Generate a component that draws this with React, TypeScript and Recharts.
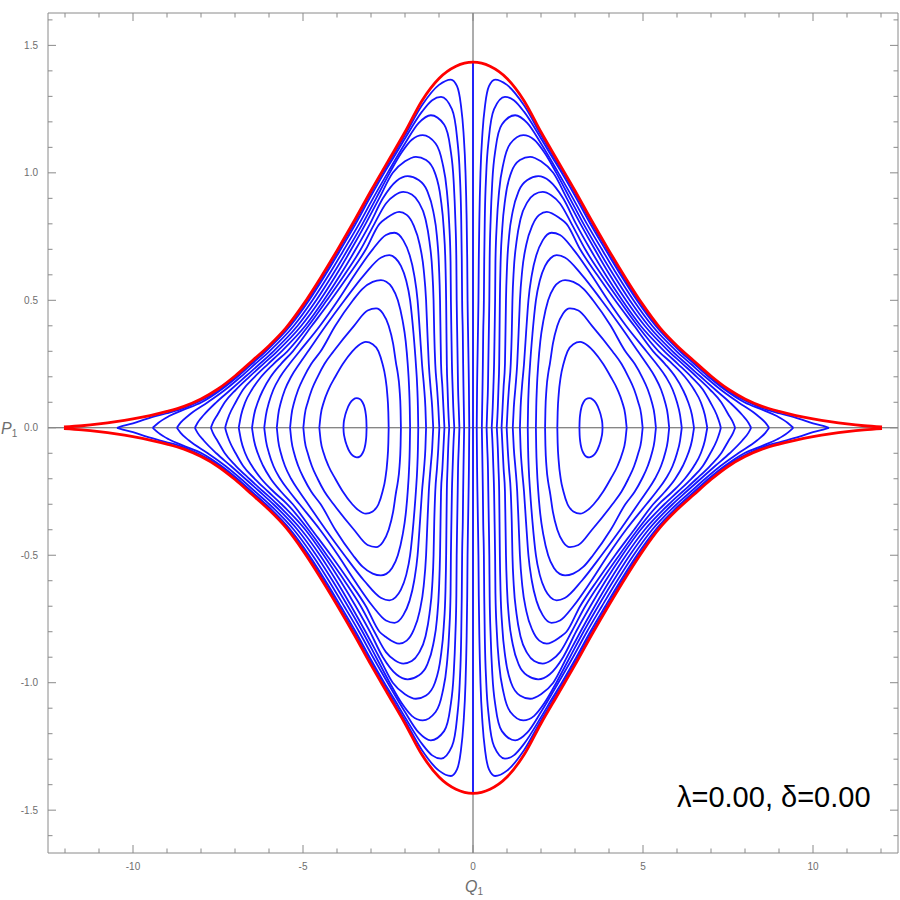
import { Line, LineChart, ReferenceLine, XAxis, YAxis } from "recharts";

type Pt = [number, number];

// upper half of the red separatrix, Q >= 0 (the picture is mirror-symmetric)
const sepQ = [0, 0.5, 1, 1.5, 2, 2.5, 3, 3.5, 4, 4.5, 5, 5.5, 6, 6.5, 7, 7.5, 8, 8.5, 9, 9.5, 10, 10.5, 11, 11.5, 12.03];
const sepP = [1.434, 1.418, 1.37, 1.283, 1.16, 1.045, 0.93, 0.81, 0.695, 0.585, 0.482, 0.392, 0.322, 0.262, 0.203, 0.152, 0.113, 0.084, 0.064, 0.048, 0.035, 0.024, 0.015, 0.008, 0.003];

// closed orbits around the right centre, upper half, from inner to outer crossing of P=0
const orbit1: Pt[] = [[3.13, 0], [3.137, 0.03], [3.155, 0.055], [3.19, 0.08], [3.25, 0.1], [3.33, 0.113], [3.42, 0.116], [3.52, 0.111], [3.62, 0.096], [3.71, 0.07], [3.775, 0.04], [3.803, 0.018], [3.81, 0]];
const orbit2: Pt[] = [[2.48, 0], [2.49, 0.06], [2.52, 0.13], [2.58, 0.2], [2.66, 0.25], [2.78, 0.3], [2.95, 0.328], [3.15, 0.337], [3.38, 0.322], [3.55, 0.3], [3.83, 0.25], [4.05, 0.2], [4.25, 0.15], [4.39, 0.1], [4.48, 0.05], [4.52, 0]];
const orbit3: Pt[] = [[2.12, 0], [2.13, 0.07], [2.16, 0.15], [2.22, 0.22], [2.26, 0.25], [2.35, 0.33], [2.48, 0.4], [2.65, 0.448], [2.85, 0.468], [3.1, 0.46], [3.5, 0.4], [4.1, 0.3], [4.37, 0.25], [4.57, 0.2], [4.74, 0.15], [4.86, 0.1], [4.95, 0.05], [4.99, 0]];
const orbit4: Pt[] = [[1.85, 0], [1.86, 0.08], [1.88, 0.16], [1.92, 0.25], [1.98, 0.34], [2.07, 0.42], [2.21, 0.5], [2.38, 0.55], [2.55, 0.573], [2.71, 0.579], [2.95, 0.572], [3.25, 0.545], [3.53, 0.5], [4.05, 0.4], [4.48, 0.3], [4.76, 0.25], [4.97, 0.2], [5.14, 0.15], [5.26, 0.1], [5.34, 0.05], [5.38, 0]];
const orbit5: Pt[] = [[1.61, 0], [1.62, 0.08], [1.64, 0.16], [1.68, 0.25], [1.75, 0.37], [1.85, 0.5], [1.97, 0.58], [2.12, 0.635], [2.28, 0.665], [2.46, 0.677], [2.7, 0.668], [3.2, 0.6], [3.78, 0.5], [4.33, 0.4], [4.85, 0.3], [5.11, 0.25], [5.35, 0.2], [5.53, 0.15], [5.65, 0.1], [5.73, 0.05], [5.77, 0]];
const orbit6: Pt[] = [[1.38, 0], [1.4, 0.08], [1.44, 0.16], [1.5, 0.25], [1.56, 0.37], [1.63, 0.5], [1.73, 0.6], [1.87, 0.68], [2.05, 0.735], [2.31, 0.765], [2.56, 0.756], [2.95, 0.7], [3.48, 0.6], [3.97, 0.5], [4.5, 0.4], [5.1, 0.3], [5.4, 0.25], [5.67, 0.2], [5.87, 0.15], [6.0, 0.1], [6.09, 0.05], [6.14, 0]];
const orbit7: Pt[] = [[1.17, 0], [1.2, 0.08], [1.25, 0.16], [1.3, 0.25], [1.34, 0.37], [1.38, 0.5], [1.45, 0.62], [1.57, 0.72], [1.75, 0.795], [1.95, 0.835], [2.17, 0.847], [2.56, 0.821], [2.75, 0.8], [3.15, 0.7], [3.65, 0.6], [4.18, 0.5], [4.74, 0.4], [5.3, 0.3], [5.65, 0.25], [5.95, 0.2], [6.17, 0.15], [6.33, 0.1], [6.44, 0.05], [6.5, 0]];
const orbit8: Pt[] = [[0.99, 0], [1.02, 0.08], [1.06, 0.16], [1.11, 0.25], [1.14, 0.37], [1.16, 0.5], [1.2, 0.62], [1.28, 0.73], [1.4, 0.82], [1.6, 0.885], [1.8, 0.915], [2.05, 0.925], [2.3, 0.912], [2.56, 0.88], [2.9, 0.8], [3.3, 0.7], [3.78, 0.6], [4.3, 0.5], [4.84, 0.4], [5.46, 0.3], [5.87, 0.25], [6.23, 0.2], [6.5, 0.15], [6.7, 0.1], [6.82, 0.05], [6.89, 0]];
const orbit9: Pt[] = [[0.84, 0], [0.87, 0.08], [0.9, 0.16], [0.94, 0.25], [0.955, 0.37], [0.97, 0.5], [1.0, 0.63], [1.06, 0.75], [1.17, 0.85], [1.35, 0.93], [1.6, 0.972], [1.92, 0.987], [2.25, 0.968], [2.65, 0.9], [3.03, 0.8], [3.45, 0.7], [3.9, 0.6], [4.39, 0.5], [4.93, 0.4], [5.63, 0.3], [6.03, 0.25], [6.42, 0.2], [6.76, 0.15], [6.98, 0.1], [7.17, 0.05], [7.25, 0.02], [7.29, 0]];
const orbit10: Pt[] = [[0.7, 0], [0.73, 0.08], [0.75, 0.16], [0.77, 0.25], [0.78, 0.37], [0.79, 0.5], [0.81, 0.64], [0.86, 0.78], [0.95, 0.9], [1.12, 1.0], [1.38, 1.05], [1.68, 1.063], [2.0, 1.045], [2.36, 1.0], [2.76, 0.9], [3.16, 0.8], [3.58, 0.7], [4.02, 0.6], [4.5, 0.5], [5.05, 0.4], [5.76, 0.3], [6.17, 0.25], [6.58, 0.2], [6.97, 0.15], [7.3, 0.1], [7.52, 0.05], [7.65, 0.02], [7.71, 0]];
const orbit11: Pt[] = [[0.55, 0], [0.58, 0.08], [0.6, 0.16], [0.62, 0.25], [0.635, 0.37], [0.65, 0.5], [0.66, 0.65], [0.7, 0.8], [0.77, 0.93], [0.9, 1.04], [1.1, 1.115], [1.48, 1.148], [1.8, 1.13], [2.1, 1.08], [2.45, 1.0], [2.85, 0.9], [3.25, 0.8], [3.68, 0.7], [4.13, 0.6], [4.61, 0.5], [5.16, 0.4], [5.87, 0.3], [6.28, 0.25], [6.7, 0.2], [7.12, 0.15], [7.55, 0.1], [7.92, 0.05], [8.1, 0.02], [8.18, 0]];
const orbit12: Pt[] = [[0.4, 0], [0.42, 0.08], [0.44, 0.16], [0.45, 0.25], [0.465, 0.37], [0.48, 0.5], [0.49, 0.66], [0.52, 0.82], [0.57, 0.97], [0.67, 1.1], [0.85, 1.19], [1.24, 1.226], [1.6, 1.195], [2.0, 1.115], [2.51, 1.0], [2.94, 0.9], [3.35, 0.8], [3.79, 0.7], [4.24, 0.6], [4.72, 0.5], [5.27, 0.4], [5.99, 0.3], [6.41, 0.25], [6.83, 0.2], [7.28, 0.15], [7.8, 0.1], [8.35, 0.05], [8.6, 0.02], [8.71, 0]];
const orbit13: Pt[] = [[0.26, 0], [0.27, 0.08], [0.28, 0.16], [0.29, 0.25], [0.3, 0.37], [0.32, 0.5], [0.33, 0.66], [0.35, 0.84], [0.39, 1.0], [0.47, 1.14], [0.62, 1.25], [0.94, 1.298], [1.2, 1.285], [1.5, 1.24], [2.0, 1.135], [2.3, 1.068], [2.61, 1.0], [3.04, 0.9], [3.45, 0.8], [3.89, 0.7], [4.34, 0.6], [4.82, 0.5], [5.37, 0.4], [6.09, 0.3], [6.51, 0.25], [6.93, 0.2], [7.4, 0.15], [7.98, 0.1], [8.54, 0.069], [8.95, 0.045], [9.25, 0.02], [9.42, 0]];
const orbit14: Pt[] = [[0.11, 0], [0.115, 0.08], [0.12, 0.16], [0.13, 0.25], [0.145, 0.37], [0.16, 0.5], [0.17, 0.66], [0.19, 0.84], [0.22, 1.0], [0.28, 1.16], [0.36, 1.27], [0.47, 1.34], [0.65, 1.366], [1.0, 1.345], [1.5, 1.265], [2.0, 1.148], [2.3, 1.08], [2.66, 1.0], [3.09, 0.9], [3.5, 0.8], [3.94, 0.7], [4.39, 0.6], [4.87, 0.5], [5.42, 0.4], [6.14, 0.3], [6.56, 0.25], [6.98, 0.2], [7.45, 0.15], [8.1, 0.1], [8.65, 0.07], [9.03, 0.056], [9.6, 0.035], [10.0, 0.017], [10.3, 0.007], [10.47, 0]];

// the invariant line Q = 0
const axisOrbitP = [-1.434, 1.434];

const rightOrbits = [orbit1, orbit2, orbit3, orbit4, orbit5, orbit6, orbit7, orbit8, orbit9, orbit10, orbit11, orbit12, orbit13, orbit14];

const xTicks = [-12, -11, -10, -9, -8, -7, -6, -5, -4, -3, -2, -1, 0, 1, 2, 3, 4, 5, 6, 7, 8, 9, 10, 11, 12];
const xLabels: Record<string, string> = { "-10": "-10", "-5": "-5", "0": "0", "5": "5", "10": "10" };
const yTicks = [-1.6, -1.5, -1.4, -1.3, -1.2, -1.1, -1.0, -0.9, -0.8, -0.7, -0.6, -0.5, -0.4, -0.3, -0.2, -0.1, 0, 0.1, 0.2, 0.3, 0.4, 0.5, 0.6, 0.7, 0.8, 0.9, 1.0, 1.1, 1.2, 1.3, 1.4, 1.5, 1.6];
const yLabels: Record<string, string> = { "-1.5": "-1.5", "-1": "-1.0", "-0.5": "-0.5", "0": "0.0", "0.5": "0.5", "1": "1.0", "1.5": "1.5" };

const BLUE = "#1414ff";
const RED = "#ff0000";
const FRAME = "#8a8a8a";
const TICK_TEXT = "#6e6e6e";
const FONT = "'Liberation Sans', Arial, sans-serif";

type Row = { q: number; p: number };

const toRows = (pts: Pt[], sq: number, sp: number): Row[] => {
  const rows = pts.map(([q, p]) => ({ q: sq * q, p: sp * p }));
  return sq < 0 ? rows.reverse() : rows;
};

const orbitSeries: { key: string; data: Row[] }[] = [];
rightOrbits.forEach((pts, i) => {
  orbitSeries.push({ key: `r${i}u`, data: toRows(pts, 1, 1) });
  orbitSeries.push({ key: `r${i}d`, data: toRows(pts, 1, -1) });
  orbitSeries.push({ key: `l${i}u`, data: toRows(pts, -1, 1) });
  orbitSeries.push({ key: `l${i}d`, data: toRows(pts, -1, -1) });
});

const sepHalf: Pt[] = sepQ.map((q, i) => [q, sepP[i]]);
const sepUpper: Row[] = [...toRows(sepHalf.slice(1), -1, 1), ...toRows(sepHalf, 1, 1)];
const sepLower: Row[] = sepUpper.map((r) => ({ q: r.q, p: -r.p }));
const axisOrbit: Row[] = axisOrbitP.map((p) => ({ q: 0, p }));

const isMajorX = (v: number) => Math.abs(v % 5) < 1e-6;
const isMajorY = (v: number) => Math.abs(v * 2 - Math.round(v * 2)) < 1e-6;

function BottomTick({ x, y, payload }: any) {
  const v = payload.value as number;
  const major = isMajorX(v);
  return (
    <g>
      <line x1={x} x2={x} y1={y} y2={y - (major ? 8 : 4.5)} stroke={FRAME} />
      {major && (
        <text x={x} y={y + 17} textAnchor="middle" fontSize={10} fontFamily={FONT} fill={TICK_TEXT}>
          {xLabels[String(v)]}
        </text>
      )}
    </g>
  );
}

function TopTick({ x, y, payload }: any) {
  const major = isMajorX(payload.value);
  return <line x1={x} x2={x} y1={y} y2={y + (major ? 8 : 4.5)} stroke={FRAME} />;
}

function LeftTick({ x, y, payload }: any) {
  const v = Math.round((payload.value as number) * 10) / 10;
  const major = isMajorY(v);
  return (
    <g>
      <line x1={x} x2={x + (major ? 8 : 4.5)} y1={y} y2={y} stroke={FRAME} />
      {major && (
        <text x={x - 10} y={y + 3.5} textAnchor="end" fontSize={10} fontFamily={FONT} fill={TICK_TEXT}>
          {yLabels[String(v)]}
        </text>
      )}
    </g>
  );
}

function RightTick({ x, y, payload }: any) {
  const major = isMajorY(payload.value);
  return <line x1={x} x2={x - (major ? 8 : 4.5)} y1={y} y2={y} stroke={FRAME} />;
}

export default function App() {
  return (
    <div style={{ position: "absolute", left: 0, top: 0, width: 900, height: 900, background: "#fff" }}>
      <LineChart width={900} height={900} margin={{ top: 12, right: 1, bottom: 46, left: 47 }}>
        <XAxis
          xAxisId="b"
          dataKey="q"
          type="number"
          domain={[-12.5, 12.5]}
          allowDataOverflow
          ticks={xTicks}
          interval={0}
          height={1}
          tickSize={0}
          tickMargin={0}
          tickLine={false}
          tick={BottomTick}
          stroke={FRAME}
        />
        <XAxis
          xAxisId="t"
          orientation="top"
          dataKey="q"
          type="number"
          domain={[-12.5, 12.5]}
          allowDataOverflow
          ticks={xTicks}
          interval={0}
          height={1}
          tickSize={0}
          tickMargin={0}
          tickLine={false}
          tick={TopTick}
          stroke={FRAME}
        />
        <YAxis
          yAxisId="l"
          type="number"
          domain={[-1.668, 1.627]}
          allowDataOverflow
          ticks={yTicks}
          interval={0}
          width={1}
          tickSize={0}
          tickMargin={0}
          tickLine={false}
          tick={LeftTick}
          stroke={FRAME}
        />
        <YAxis
          yAxisId="r"
          orientation="right"
          type="number"
          domain={[-1.668, 1.627]}
          allowDataOverflow
          ticks={yTicks}
          interval={0}
          width={1}
          tickSize={0}
          tickMargin={0}
          tickLine={false}
          tick={RightTick}
          stroke={FRAME}
        />
        <ReferenceLine xAxisId="b" yAxisId="l" x={0} stroke="#5a5a5a" strokeWidth={1} />
        <ReferenceLine xAxisId="b" yAxisId="l" y={0} stroke="#5a5a5a" strokeWidth={1} />
        <Line
          xAxisId="b"
          yAxisId="l"
          data={axisOrbit}
          dataKey="p"
          type="linear"
          stroke={BLUE}
          strokeWidth={1.8}
          dot={false}
          isAnimationActive={false}
        />
        {orbitSeries.map((s) => (
          <Line
            key={s.key}
            xAxisId="b"
            yAxisId="l"
            data={s.data}
            dataKey="p"
            type="monotone"
            stroke={BLUE}
            strokeWidth={1.8}
            dot={false}
            activeDot={false}
            isAnimationActive={false}
          />
        ))}
        <Line xAxisId="b" yAxisId="l" data={sepUpper} dataKey="p" type="monotone" stroke={RED} strokeWidth={2.8} dot={false} isAnimationActive={false} />
        <Line xAxisId="b" yAxisId="l" data={sepLower} dataKey="p" type="monotone" stroke={RED} strokeWidth={2.8} dot={false} isAnimationActive={false} />
      </LineChart>
      <svg width={900} height={900} style={{ position: "absolute", left: 0, top: 0, pointerEvents: "none" }}>
        <text x={1} y={434} fontSize={16} fontFamily={FONT} fill={TICK_TEXT}>
          <tspan fontStyle="italic">P</tspan>
          <tspan fontSize={10} dy={3}>1</tspan>
        </text>
        <text x={465} y={892} fontSize={16} fontFamily={FONT} fill={TICK_TEXT}>
          <tspan fontStyle="italic">Q</tspan>
          <tspan fontSize={10} dy={3}>1</tspan>
        </text>
        <text x={677} y={807} fontSize={29} fontFamily={FONT} fill="#000">
          λ=0.00, δ=0.00
        </text>
      </svg>
    </div>
  );
}
